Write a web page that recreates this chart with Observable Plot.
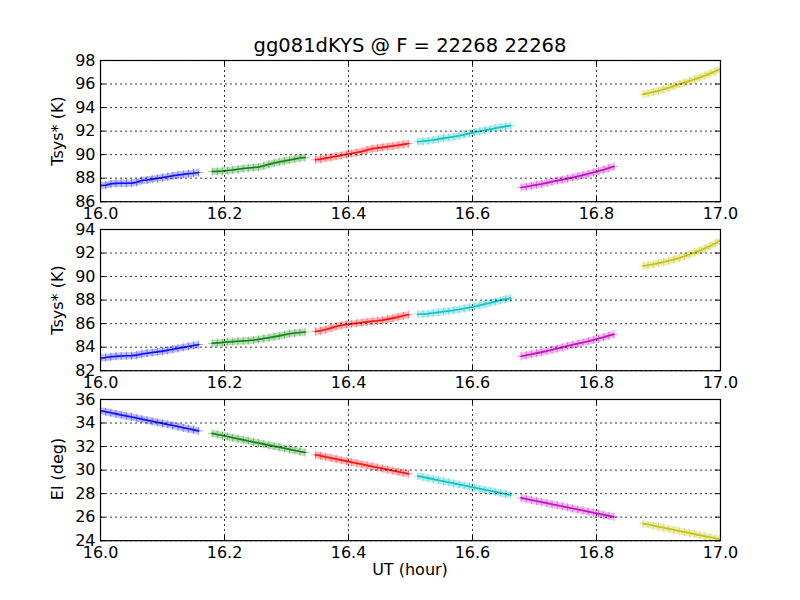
<!DOCTYPE html>
<html>
<head>
<meta charset="utf-8">
<script src="https://cdn.jsdelivr.net/npm/d3@7"></script>
<script src="https://cdn.jsdelivr.net/npm/@observablehq/plot@0.6"></script>
<style>
  html, body { margin: 0; padding: 0; background: #fff; }
  #wrap { position: relative; width: 800px; height: 600px; background: #fff; font-family: "DejaVu Sans", sans-serif; color: #000; overflow: hidden; }
  .panel { position: absolute; left: 0; }
  .txt { position: absolute; white-space: nowrap; text-align: center; }
</style>
</head>
<body>
<div id="wrap"></div>
<script>
// ---- data ----
const chartTitle = "gg081dKYS @ F = 22268 22268";
const xLabel = "UT (hour)";
const yLabels = ["Tsys* (K)", "Tsys* (K)", "El (deg)"];
const scanColors = ["#0000ff", "#008000", "#ff0000", "#00bfbf", "#bf00bf", "#bfbf00"];
const xTicks = [16.0, 16.2, 16.4, 16.6, 16.8, 17.0];
const yTicks1 = [86, 88, 90, 92, 94, 96, 98];
const yTicks2 = [82, 84, 86, 88, 90, 92, 94];
const yTicks3 = [24, 26, 28, 30, 32, 34, 36];

// sample times, minutes after 16:00 UT, one list per scan
const timeB = [0.0,0.5,1.0,1.5,2.0,2.5,3.0,3.5,4.0,4.5,5.0,5.5,6.0,6.5,7.0,7.5,8.0,8.5,9.0,9.5];
const timeG = [10.8,11.3,11.8,12.3,12.8,13.3,13.8,14.3,14.8,15.3,15.8,16.3,16.8,17.3,17.8,18.3,18.8,19.3,19.8];
const timeR = [20.8,21.3,21.8,22.3,22.8,23.3,23.8,24.3,24.8,25.3,25.8,26.3,26.8,27.3,27.8,28.3,28.8,29.3,29.8];
const timeC = [30.7,31.2,31.7,32.2,32.7,33.2,33.7,34.2,34.7,35.2,35.7,36.2,36.7,37.2,37.7,38.2,38.7,39.2,39.7];
const timeM = [40.7,41.2,41.7,42.2,42.7,43.2,43.7,44.2,44.7,45.2,45.7,46.2,46.7,47.2,47.7,48.2,48.7,49.2,49.7];
const timeY = [52.5,53.0,53.5,54.0,54.5,55.0,55.5,56.0,56.5,57.0,57.5,58.0,58.5,59.0,59.5,60.0];

const tsysA = [
  [87.38,87.40,87.52,87.56,87.57,87.57,87.58,87.65,87.80,87.84,87.92,87.98,88.05,88.12,88.20,88.27,88.32,88.38,88.42,88.48],
  [88.56,88.58,88.60,88.65,88.70,88.76,88.82,88.86,88.90,88.94,89.05,89.17,89.29,89.38,89.46,89.55,89.63,89.72,89.76],
  [89.56,89.62,89.70,89.78,89.86,89.94,90.03,90.10,90.18,90.27,90.40,90.50,90.57,90.62,90.68,90.74,90.80,90.87,90.94],
  [91.10,91.14,91.18,91.24,91.32,91.40,91.46,91.52,91.60,91.70,91.80,91.90,91.99,92.07,92.15,92.24,92.32,92.40,92.47],
  [87.20,87.27,87.35,87.43,87.51,87.60,87.70,87.79,87.87,87.96,88.06,88.16,88.26,88.37,88.48,88.60,88.72,88.86,89.00],
  [95.12,95.22,95.32,95.43,95.55,95.68,95.83,95.98,96.12,96.26,96.40,96.56,96.72,96.90,97.08,97.28]
];
const tsysB = [
  [83.06,83.12,83.18,83.22,83.25,83.27,83.28,83.32,83.42,83.48,83.54,83.60,83.66,83.74,83.82,83.90,83.98,84.06,84.14,84.22],
  [84.33,84.36,84.40,84.44,84.47,84.50,84.53,84.56,84.60,84.66,84.73,84.80,84.88,84.96,85.05,85.14,85.20,85.25,85.28],
  [85.33,85.40,85.50,85.62,85.76,85.86,85.92,85.98,86.04,86.10,86.15,86.20,86.24,86.30,86.38,86.47,86.57,86.67,86.76],
  [86.80,86.82,86.85,86.90,86.96,87.02,87.08,87.14,87.20,87.28,87.37,87.46,87.56,87.66,87.76,87.87,87.98,88.08,88.17],
  [83.22,83.31,83.40,83.49,83.58,83.68,83.78,83.88,83.98,84.10,84.20,84.30,84.40,84.50,84.61,84.73,84.85,84.98,85.10],
  [90.90,90.97,91.05,91.14,91.23,91.34,91.46,91.58,91.72,91.88,92.05,92.22,92.40,92.60,92.82,93.05]
];
const elev = [
  [35.05,34.96,34.87,34.78,34.69,34.60,34.51,34.42,34.33,34.24,34.15,34.06,33.97,33.88,33.79,33.70,33.60,33.51,33.42,33.33],
  [33.12,33.03,32.94,32.85,32.75,32.66,32.57,32.48,32.39,32.30,32.21,32.12,32.03,31.94,31.85,31.76,31.67,31.58,31.49],
  [31.30,31.21,31.12,31.03,30.94,30.85,30.76,30.67,30.58,30.49,30.40,30.31,30.22,30.13,30.04,29.95,29.86,29.77,29.68],
  [29.50,29.41,29.32,29.23,29.14,29.05,28.96,28.87,28.78,28.69,28.60,28.51,28.42,28.33,28.24,28.15,28.06,27.97,27.88],
  [27.64,27.55,27.46,27.37,27.28,27.19,27.10,27.01,26.92,26.83,26.74,26.65,26.56,26.47,26.38,26.29,26.20,26.11,26.02],
  [25.45,25.37,25.28,25.19,25.10,25.01,24.92,24.83,24.74,24.65,24.56,24.47,24.38,24.29,24.20,24.11]
];
const scanTimes = [timeB, timeG, timeR, timeC, timeM, timeY];

// ---- drawing ----
const wrap = document.getElementById("wrap");
const W = 800, ML = 100, MR = 80, MT = 20, MB = 30;
const frameH = 141.2;
const frameTops = [60, 229.4, 398.8];

const plusSym = {
  draw(ctx, size) {
    const r = Math.sqrt(size / Math.PI);
    ctx.moveTo(-r, 0); ctx.lineTo(r, 0);
    ctx.moveTo(0, -r); ctx.lineTo(0, r);
  }
};

function rowsFor(vals) {
  const rows = [];
  vals.forEach((arr, i) => {
    arr.forEach((v, j) => {
      rows.push({ut: 16 + scanTimes[i][j] / 60, v, scan: i, color: scanColors[i]});
    });
  });
  return rows;
}

function panel(vals, yTicks, ylabel, idx) {
  const rows = rowsFor(vals);
  const frameW = W - ML - MR;
  const plot = Plot.plot({
    width: W,
    height: frameH + MT + MB,
    marginLeft: ML, marginRight: MR, marginTop: MT, marginBottom: MB,
    x: {domain: [16, 17]},
    y: {domain: [yTicks[0], yTicks[yTicks.length - 1]]},
    color: {type: "identity"},
    style: {background: "transparent", fontFamily: "DejaVu Sans", fontSize: "16px", color: "black", overflow: "visible"},
    marks: [
      Plot.line(rows, {x: "ut", y: "v", z: "scan", stroke: "color", strokeWidth: 7, strokeOpacity: 0.26, strokeLinecap: "butt", clip: true}),
      Plot.dot(rows, {x: "ut", y: "v", symbol: plusSym, r: 4.2, stroke: "color", strokeOpacity: 0.4, strokeWidth: 1, fill: "none", clip: true}),
      Plot.line(rows, {x: "ut", y: "v", z: "scan", stroke: "color", strokeWidth: 1.6, strokeOpacity: 0.85, clip: true}),
      Plot.gridX(xTicks, {stroke: "black", strokeOpacity: 1, strokeWidth: 0.8, strokeDasharray: "2,3"}),
      Plot.gridY(yTicks, {stroke: "black", strokeOpacity: 1, strokeWidth: 0.8, strokeDasharray: "2,3"}),
      Plot.tickX(xTicks, {x: d => d, stroke: "black", strokeWidth: 1, insetTop: frameH - 5}),
      Plot.tickX(xTicks, {x: d => d, stroke: "black", strokeWidth: 1, insetBottom: frameH - 5}),
      Plot.tickY(yTicks, {y: d => d, stroke: "black", strokeWidth: 1, insetRight: frameW - 5}),
      Plot.tickY(yTicks, {y: d => d, stroke: "black", strokeWidth: 1, insetLeft: frameW - 5}),
      Plot.frame({stroke: "black", strokeWidth: 1.2}),
      Plot.axisX(xTicks, {tickSize: 0, tickPadding: 5.5, tickFormat: d => d.toFixed(1), label: null}),
      Plot.axisY(yTicks, {tickSize: 0, tickPadding: 5, tickFormat: d => String(d), label: null})
    ]
  });
  plot.classList.add("panel");
  plot.style.top = (frameTops[idx] - MT) + "px";
  plot.style.position = "absolute";
  plot.style.left = "0px";
  wrap.appendChild(plot);

  const yl = document.createElement("div");
  yl.className = "txt";
  yl.textContent = ylabel;
  const cx = 58, cy = frameTops[idx] + frameH / 2;
  Object.assign(yl.style, {left: (cx - 100) + "px", top: (cy - 8) + "px", width: "200px", height: "16px",
    lineHeight: "16px", fontSize: "16px", transform: "rotate(-90deg)"});
  wrap.appendChild(yl);
}

panel(tsysA, yTicks1, yLabels[0], 0);
panel(tsysB, yTicks2, yLabels[1], 1);
panel(elev, yTicks3, yLabels[2], 2);

const t = document.createElement("div");
t.className = "txt";
t.textContent = chartTitle;
Object.assign(t.style, {left: "110px", width: "600px", top: "36px", fontSize: "19.5px", lineHeight: "20px"});
wrap.appendChild(t);

const xl = document.createElement("div");
xl.className = "txt";
xl.textContent = xLabel;
Object.assign(xl.style, {left: "210px", width: "400px", top: "561.5px", fontSize: "16px", lineHeight: "16px"});
wrap.appendChild(xl);
</script>
</body>
</html>
